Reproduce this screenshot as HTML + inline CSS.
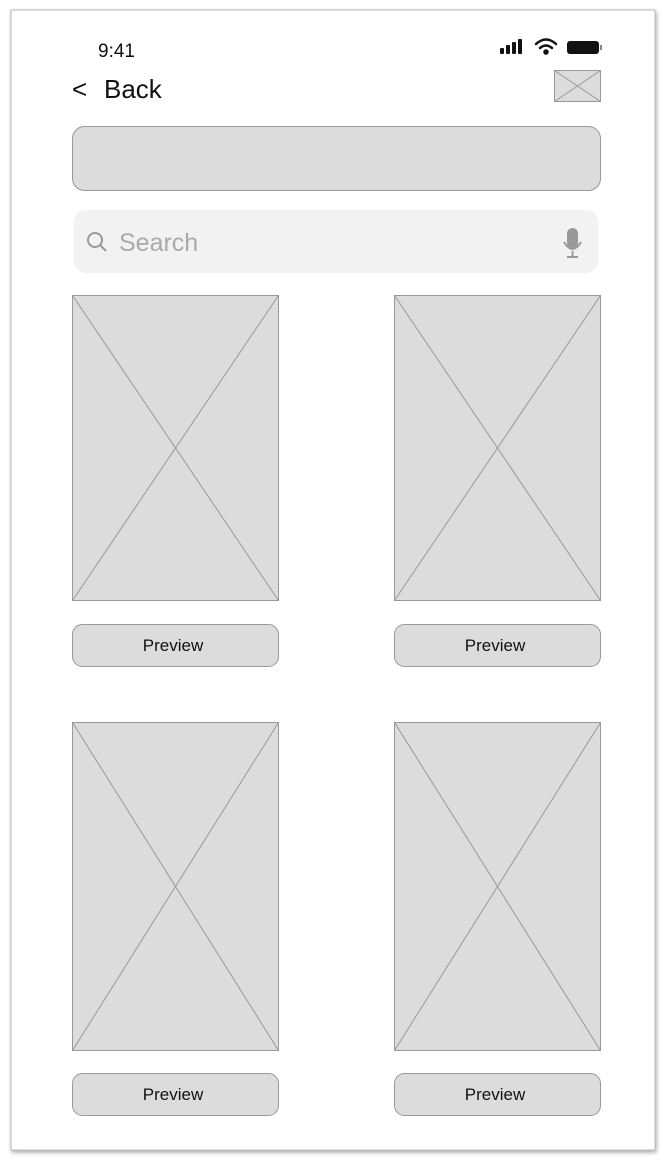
<!DOCTYPE html>
<html><head><meta charset="utf-8"><style>
html,body{margin:0;padding:0;background:#fff;width:666px;height:1164px;overflow:hidden}
svg{display:block}
text{font-family:"Liberation Sans",sans-serif}
</style></head><body>
<svg width="666" height="1164" viewBox="0 0 666 1164">
<defs><filter id="sh" x="-5%" y="-5%" width="110%" height="110%"><feDropShadow dx="1" dy="2" stdDeviation="2" flood-color="#000" flood-opacity="0.35"/></filter></defs>
<rect x="11" y="10" width="644" height="1140" fill="#fff" stroke="#bbb" stroke-width="1" filter="url(#sh)"/>
<text x="98" y="57" font-size="19" fill="#111">9:41</text>
<g fill="#111">
<rect x="500" y="48" width="4" height="6" rx="1"/><rect x="506" y="45" width="4" height="9" rx="1"/><rect x="512" y="42" width="4" height="12" rx="1"/><rect x="518" y="39" width="4" height="15" rx="1"/></g>
<g fill="none" stroke="#111" stroke-width="2.5" stroke-linecap="round">
<path d="M536 44 Q546 35 556 44"/><path d="M540 48 Q546 43 552 48"/><circle cx="546" cy="52" r="1.5" fill="#111"/></g>
<g><rect x="567" y="41" width="32" height="13" rx="3" fill="#111"/><rect x="600" y="45" width="2" height="5" fill="#888"/></g>
<g>
<text x="72" y="98" font-size="26" fill="#111">&lt;</text>
<text x="104" y="98" font-size="26" fill="#111">Back</text></g>
<g><rect x="554.5" y="70.5" width="46" height="31" fill="#dcdcdc" stroke="#999"/><path d="M554.5 70.5 L577.5 86 L600.5 70.5 M554.5 101.5 L577.5 86 L600.5 101.5" stroke="#999" fill="none"/></g>
<rect x="72.5" y="126.5" width="528" height="64" rx="12" fill="#dcdcdc" stroke="#999"/>
<rect x="74" y="210" width="524" height="63" rx="12" fill="#f2f2f2"/>
<g fill="none" stroke="#999" stroke-width="2"><circle cx="95" cy="240" r="7"/><line x1="100" y1="245" x2="106" y2="251"/></g>
<text x="119" y="251" font-size="25" fill="#aaa">Search</text>
<g fill="none" stroke="#999" stroke-width="2"><rect x="568" y="229" width="9" height="18" rx="4.5" fill="#999"/><path d="M564 242 Q572.5 256 581 242"/><line x1="572.5" y1="251" x2="572.5" y2="257"/><line x1="567" y1="257" x2="578" y2="257"/></g>
<g id="cards"></g>
</svg>
<script>
const cards=[[72,295,305,624],[394,295,305,624],[72,722,328,1073],[394,722,328,1073]];
const g=document.getElementById('cards');const ns='http://www.w3.org/2000/svg';
cards.forEach((c,i)=>{const [x,y,h,by]=c;const w=206;
const im=document.createElementNS(ns,'g');


im.innerHTML=`<rect x="${x+.5}" y="${y+.5}" width="${w}" height="${h}" fill="#dcdcdc" stroke="#999"/><path d="M${x+.5} ${y+.5} L${x+w+.5} ${y+h+.5} M${x+w+.5} ${y+.5} L${x+.5} ${y+h+.5}" stroke="#999" fill="none"/>`;
g.appendChild(im);
const b=document.createElementNS(ns,'g');


b.innerHTML=`<rect x="${x+.5}" y="${by+.5}" width="${w}" height="42" rx="10" fill="#dcdcdc" stroke="#999"/><text x="${x+w/2-2}" y="${by+27}" font-size="17" fill="#111" text-anchor="middle">Preview</text>`;
g.appendChild(b);});
</script>
</body></html>
